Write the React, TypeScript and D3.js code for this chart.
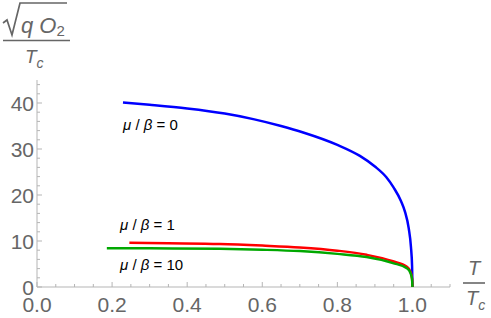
import React from "react";
import * as d3 from "d3";

const blueT = [0.229, 0.3, 0.4, 0.5, 0.576, 0.65, 0.709, 0.8, 0.86, 0.9, 0.93, 0.95, 0.97, 0.98, 0.99, 0.996, 0.999, 1.0];
const blueY = [40.1, 39.6, 38.8, 37.7, 36.5, 35.0, 33.6, 30.9, 28.5, 26.2, 23.9, 21.6, 18.6, 16.4, 12.8, 8.7, 4.5, 0];
const redT = [0.246, 0.35, 0.487, 0.6, 0.7, 0.8, 0.878, 0.948, 0.985, 0.995, 0.999, 1.0];
const redY = [9.6, 9.5, 9.35, 9.0, 8.6, 7.9, 7.0, 5.6, 4.4, 3.3, 1.8, 0];
const greenT = [0.186, 0.3, 0.487, 0.6, 0.7, 0.8, 0.878, 0.948, 0.985, 0.995, 0.999, 1.0];
const greenY = [8.4, 8.4, 8.3, 8.1, 7.8, 7.2, 6.5, 5.2, 4.1, 3.0, 1.6, 0];
const xTicks = [0.0, 0.2, 0.4, 0.6, 0.8, 1.0];
const yTicks = [0, 10, 20, 30, 40];

export default function App() {
  const W = 491, H = 318;
  const x = d3.scaleLinear().domain([0, 1.1]).range([37, 450]);
  const y = d3.scaleLinear().domain([0, 45]).range([287, 80]);
  const line = d3.line<[number, number]>().x(d => x(d[0])).y(d => y(d[1])).curve(d3.curveMonotoneX);
  const zip = (a: number[], b: number[]) => a.map((v, i) => [v, b[i]] as [number, number]);
  const axisColor = "#b5b5b5";
  const labelColor = "#666";
  const xMinor = d3.range(0, 1.1001, 0.05);
  const yMinor = d3.range(0, 45.001, 2);
  const font = "'Liberation Sans', Arial, sans-serif";
  return (
    <svg width={W} height={H} style={{ position: "absolute", left: 0, top: 0 }} fontFamily={font}>
      {/* axes */}
      <line x1={x(0)} x2={x(1.1)} y1={y(0)} y2={y(0)} stroke={axisColor} strokeWidth={1} />
      <line x1={x(0)} x2={x(0)} y1={y(0)} y2={y(45)} stroke={axisColor} strokeWidth={1} />
      {xMinor.map((t, i) => {
        const major = i % 4 === 0;
        return <line key={"xm" + i} x1={x(t)} x2={x(t)} y1={y(0)} y2={y(0) - (major ? 5 : 3)} stroke={axisColor} />;
      })}
      {yMinor.map((t, i) => {
        const major = Math.abs(t % 10) < 1e-6;
        return <line key={"ym" + i} x1={x(0)} x2={x(0) + (major ? 5 : 3)} y1={y(t)} y2={y(t)} stroke={axisColor} />;
      })}
      {xTicks.map(t => (
        <text key={"xt" + t} x={x(t)} y={312} textAnchor="middle" fontSize={21} fill={labelColor}>{t.toFixed(1)}</text>
      ))}
      {yTicks.map(t => (
        <text key={"yt" + t} x={x(0) - 3} y={y(t) + 7.5} textAnchor="end" fontSize={21} fill={labelColor}>{t}</text>
      ))}
      {/* curves */}
      <path d={line(zip(blueT, blueY)) || ""} fill="none" stroke="#0000ff" strokeWidth={2.5} />
      <path d={line(zip(redT, redY)) || ""} fill="none" stroke="#ff0000" strokeWidth={2.5} />
      <path d={line(zip(greenT, greenY)) || ""} fill="none" stroke="#00a800" strokeWidth={2.5} />
      {/* curve labels */}
      <text x={123} y={130} fontSize={15} fill="#000"><tspan fontStyle="italic">μ</tspan> / <tspan fontStyle="italic">β</tspan> = 0</text>
      <text x={120} y={230} fontSize={15} fill="#000"><tspan fontStyle="italic">μ</tspan> / <tspan fontStyle="italic">β</tspan> = 1</text>
      <text x={120} y={270} fontSize={15} fill="#000"><tspan fontStyle="italic">μ</tspan> / <tspan fontStyle="italic">β</tspan> = 10</text>
      {/* y label */}
      <g fill={labelColor} stroke="none">
        <path d="M3,23 L7,20 L12,35 L20,3 L67,3" fill="none" stroke={labelColor} strokeWidth={1.7} />
        <text x={21} y={33} fontSize={22} fontStyle="italic">q O<tspan fontSize={15} dy={3} fontStyle="normal">2</tspan></text>
        <line x1={3} x2={70} y1={40.5} y2={40.5} stroke={labelColor} strokeWidth={1.6} />
        <text x={25} y={63} fontSize={19} fontStyle="italic">T<tspan fontSize={14} dy={5}>c</tspan></text>
      </g>
      {/* x label */}
      <g fill={labelColor}>
        <text x={474} y={275} fontSize={20} fontStyle="italic" textAnchor="middle">T</text>
        <line x1={463} x2={485} y1={283} y2={283} stroke={labelColor} strokeWidth={1.6} />
        <text x={466} y={305} fontSize={20} fontStyle="italic">T<tspan fontSize={14} dy={5}>c</tspan></text>
      </g>
    </svg>
  );
}
